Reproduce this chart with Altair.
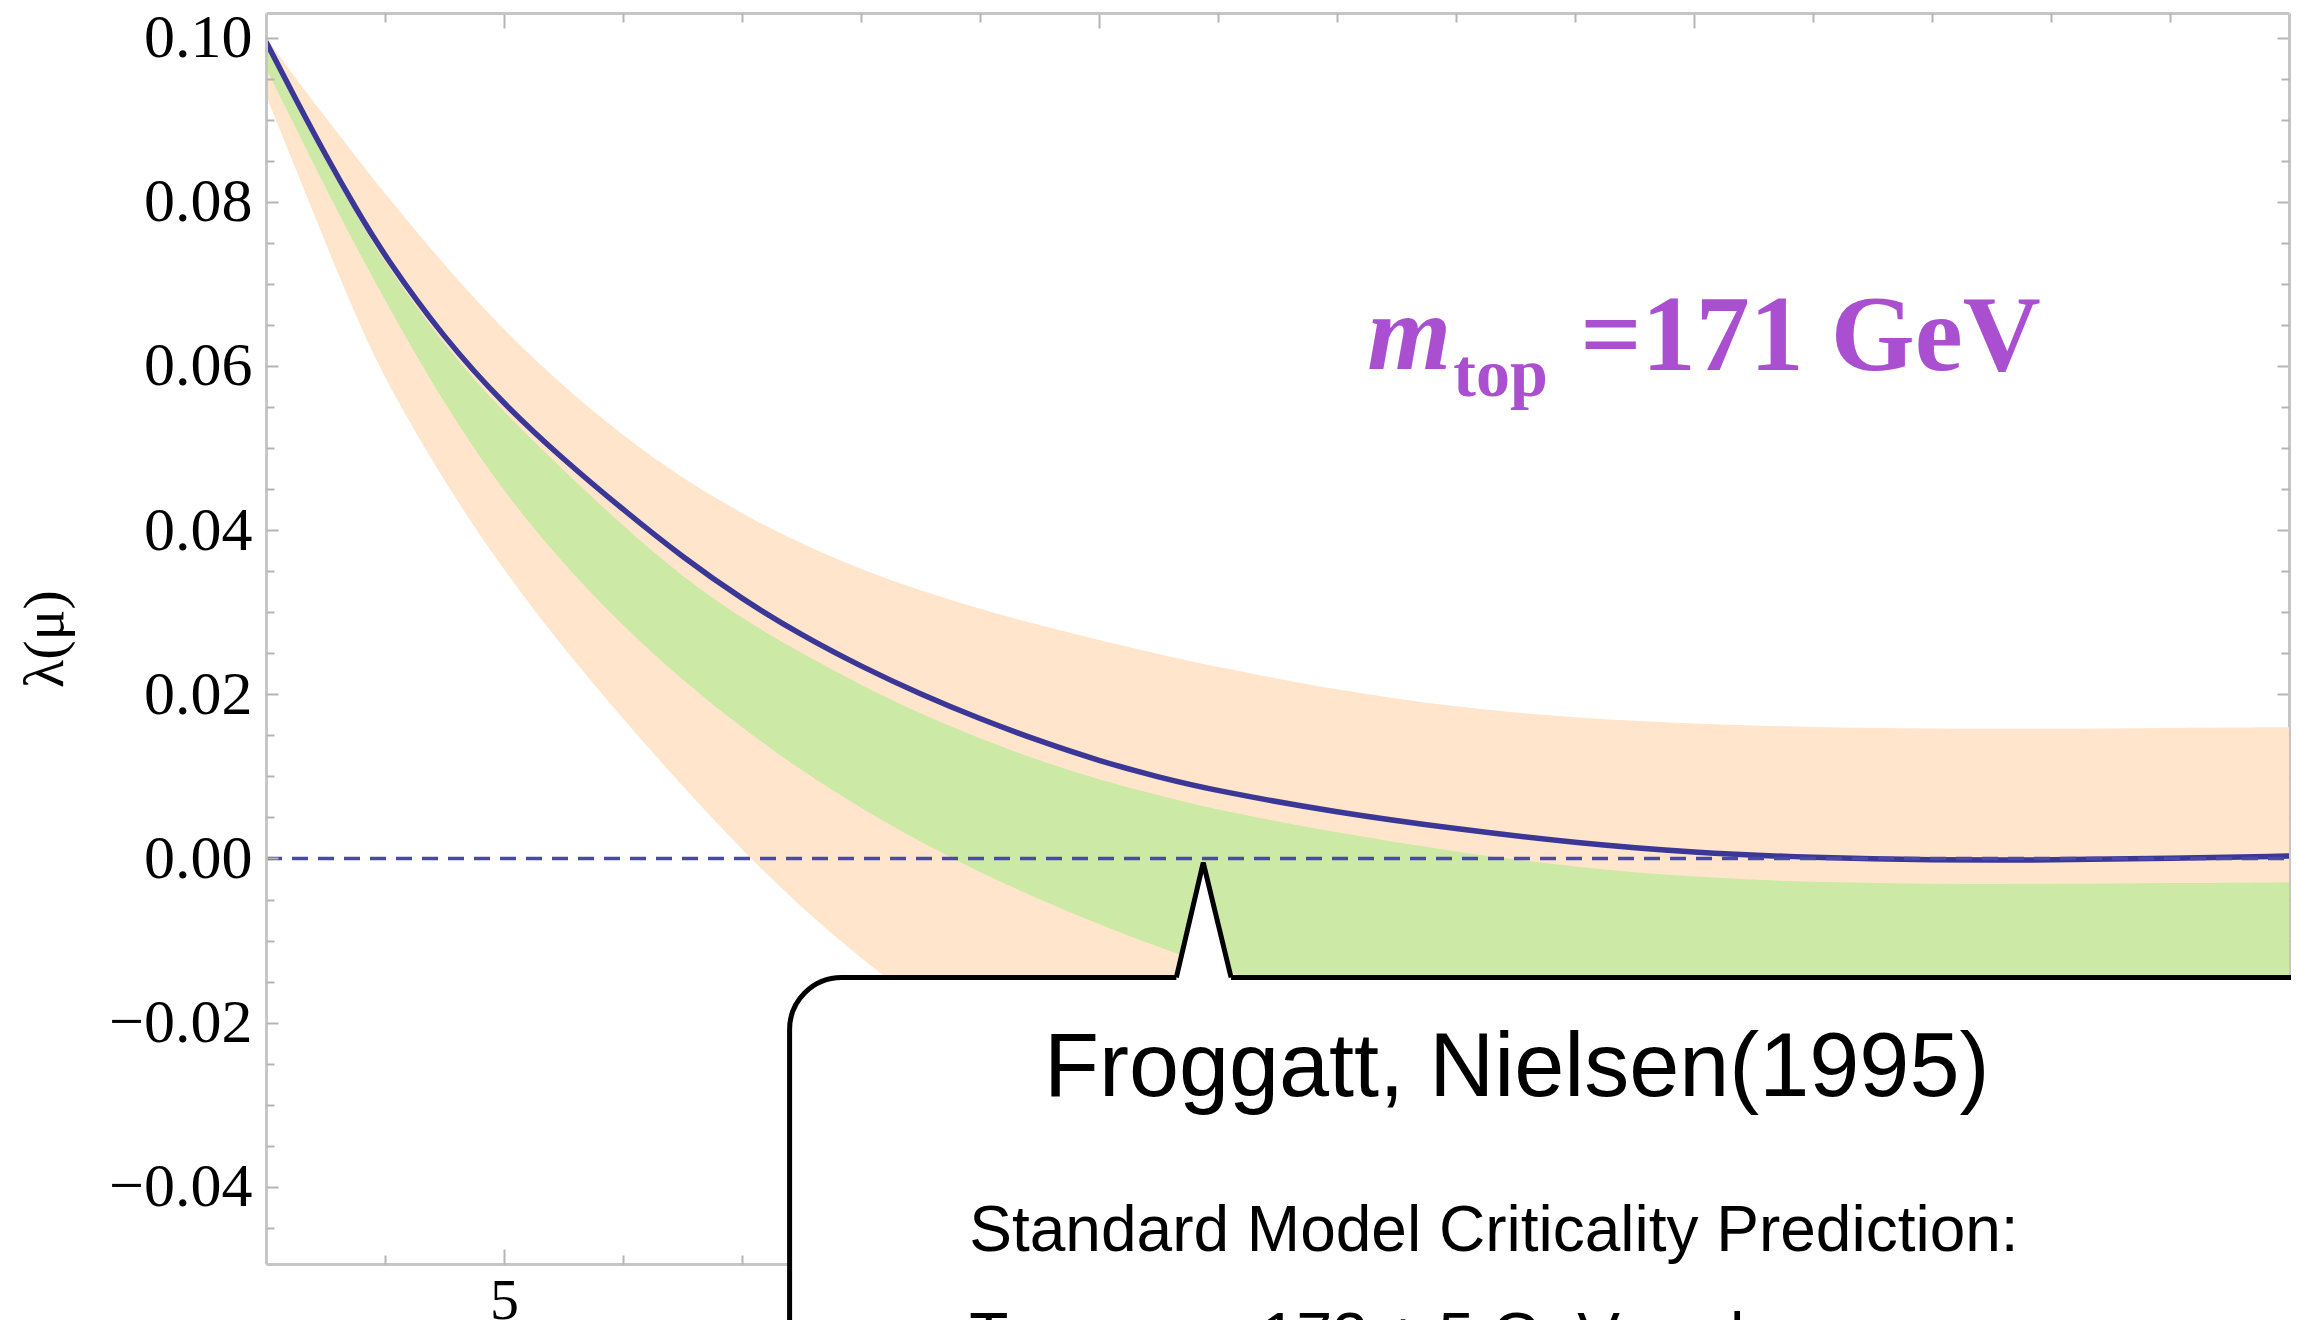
import altair as alt
import pandas as pd

# ---------------- data ----------------
mu = [3.0, 3.25, 3.5, 3.75, 4.0, 4.5, 5.0, 5.5, 6.0, 6.5, 7.0, 7.5, 8.0, 8.5,
      9.0, 9.5, 10.0, 10.5, 11.0, 12.0, 13.0, 14.0, 15.0, 16.0, 17.0, 18.0, 19.0, 20.0]
lam_central = [0.0995, 0.0925, 0.0857, 0.0793, 0.0733, 0.0633, 0.0553, 0.0486, 0.0425, 0.0367,
               0.0316, 0.0272, 0.0234, 0.0200, 0.0170, 0.0143, 0.0119, 0.0099, 0.0082, 0.0056,
               0.0036, 0.0019, 0.0007, 0.0001, -0.0002, -0.0002, 0.0000, 0.0003]
outer_hi = [0.1000, 0.0950, 0.0903, 0.0856, 0.0810, 0.0722, 0.0643, 0.0575, 0.0515, 0.0463,
            0.0420, 0.0383, 0.0352, 0.0326, 0.0304, 0.0284, 0.0266, 0.0249, 0.0233, 0.0205,
            0.0184, 0.0171, 0.0164, 0.0160, 0.0158, 0.0158, 0.0159, 0.0160]
outer_lo = [0.0930, 0.0840, 0.0750, 0.0662, 0.0583, 0.0458, 0.0350, 0.0256, 0.0170, 0.0088,
            0.0010, -0.0060, -0.0122, -0.0177, -0.0222, -0.0260, -0.0294, -0.0324, -0.0350, -0.0390,
            -0.0420, -0.0440, -0.0458, -0.0470, -0.0479, -0.0485, -0.0489, -0.0490]
inner_hi = [0.0988, 0.0918, 0.0850, 0.0786, 0.0725, 0.0624, 0.0543, 0.0473, 0.0405, 0.0343,
            0.0292, 0.0250, 0.0211, 0.0176, 0.0146, 0.0119, 0.0096, 0.0077, 0.0059, 0.0031,
            0.0008, -0.0011, -0.0023, -0.0029, -0.0031, -0.0031, -0.0030, -0.0029]
inner_lo = [0.0963, 0.0890, 0.0817, 0.0747, 0.0680, 0.0552, 0.0446, 0.0358, 0.0283, 0.0217,
            0.0159, 0.0107, 0.0061, 0.0020, -0.0017, -0.0050, -0.0080, -0.0108, -0.0134, -0.0180,
            -0.0215, -0.0240, -0.0258, -0.0270, -0.0278, -0.0283, -0.0286, -0.0288]

# tick values
y_major = [-0.04, -0.02, 0.0, 0.02, 0.04, 0.06, 0.08, 0.10]
y_minor = [-0.045, -0.035, -0.03, -0.025, -0.015, -0.01, -0.005, 0.005, 0.01, 0.015,
           0.025, 0.03, 0.035, 0.045, 0.05, 0.055, 0.065, 0.07, 0.075, 0.085, 0.09, 0.095]
x_labels = [5]
x_major = [5, 10, 15]
x_minor = [4, 6, 7, 8, 9, 11, 12, 13, 14, 16, 17, 18, 19]

# annotation anchors (data coordinates)
zero_level = 0.0
box_x = [7.40, 22.0]
box_y = [-0.0145, -0.09]
pointer_x = [10.65, 10.876, 11.11]
pointer_y = [-0.0145, -0.0005, -0.0145]
pointer_base = -0.0152
title_pos = (13.51, -0.0289)
line1_pos = (8.91, -0.0478)
line2_pos = (8.91, -0.0608)
m_pos = (12.255, 0.0596)
sub_pos = (12.977, 0.0564)
val_pos = (14.044, 0.0595)

# ---------------- styling ----------------
W, H = 2023, 1251
ORANGE = "#FFE5CC"
GREEN = "#CDE9A6"
BLUE = "#3A3796"
DASH = "#4A48A8"
PURPLE = "#A94FCF"
FRAME = "#C6C6C6"
TICK = "#B5B5B5"
SERIF = "Liberation Serif"
SANS = "Liberation Sans"

xs = alt.Scale(domain=[3, 20], nice=False, zero=False)
ys = alt.Scale(domain=[-0.0494, 0.103], nice=False, zero=False)


def tick_axis(orient, offset, values, size, domain=False, zindex=1):
    return alt.Axis(orient=orient, offset=offset, values=values, tickSize=size,
                    ticks=True, labels=False, domain=domain, domainColor=FRAME,
                    domainWidth=3, tickColor=TICK, tickWidth=2, grid=False,
                    title=None, zindex=zindex)


x_label_axis = alt.Axis(orient="bottom", values=x_labels, format="d", labelFont=SERIF,
                        labelFontSize=58, labelColor="black", labelPadding=8,
                        ticks=False, domain=True, domainColor=FRAME, domainWidth=3,
                        grid=False, title=None, labelFlush=False, zindex=0)
y_label_axis = alt.Axis(orient="left", values=y_major,
                        labelExpr="replace(format(datum.value, '.2f'), '-', '\u2212')",
                        labelFont=SERIF, labelFontSize=62, labelColor="black",
                        labelPadding=14, ticks=False, domain=True, domainColor=FRAME,
                        domainWidth=3, grid=False, title="\u03bb(\u03bc)",
                        titleFont=SERIF, titleFontSize=58, titleFontWeight="normal",
                        titleColor="black", titlePadding=34, zindex=1)

df = pd.DataFrame({"mu": mu, "central": lam_central, "o_lo": outer_lo, "o_hi": outer_hi,
                   "g_lo": inner_lo, "g_hi": inner_hi})

orange = alt.Chart(df).mark_area(color=ORANGE, clip=True, interpolate="basis").encode(
    x=alt.X("mu:Q", scale=xs, axis=x_label_axis),
    y=alt.Y("o_lo:Q", scale=ys, axis=y_label_axis),
    y2="o_hi:Q",
)
green = alt.Chart(df).mark_area(color=GREEN, clip=True, interpolate="basis").encode(
    x=alt.X("mu:Q", scale=xs, axis=tick_axis("top", -H, x_major, 15, zindex=0)),
    y=alt.Y("g_lo:Q", scale=ys, axis=tick_axis("right", -W, y_major, 12)),
    y2="g_hi:Q",
)
line = alt.Chart(df).mark_line(color=BLUE, strokeWidth=5.5, clip=True, interpolate="basis").encode(
    x=alt.X("mu:Q", scale=xs, axis=tick_axis("top", -H, x_minor, 9, zindex=0)),
    y=alt.Y("central:Q", scale=ys, axis=tick_axis("right", -W, y_minor, 8)),
)

zero_df = pd.DataFrame({"x0": [mu[0]], "x1": [mu[-1]], "y": [zero_level]})
zero = alt.Chart(zero_df).mark_rule(color=DASH, strokeWidth=3.5, strokeDash=[16, 10]).encode(
    x=alt.X("x0:Q", scale=xs, axis=tick_axis("bottom", -H, x_major, 15, domain=True, zindex=1)),
    x2="x1:Q",
    y=alt.Y("y:Q", scale=ys, axis=tick_axis("left", -W, y_major, 12, domain=True, zindex=0)),
)

box_df = pd.DataFrame({"x0": [box_x[0]], "x1": [box_x[1]], "y0": [box_y[0]], "y1": [box_y[1]]})
box = alt.Chart(box_df).mark_rect(fill="white", stroke="black", strokeWidth=5,
                                  cornerRadius=52).encode(
    x=alt.X("x0:Q", scale=xs, axis=tick_axis("bottom", -H, x_minor, 9)),
    x2="x1:Q",
    y=alt.Y("y0:Q", scale=ys, axis=tick_axis("left", -W, y_minor, 8, zindex=0)),
    y2="y1:Q",
)

ptr_df = pd.DataFrame({"x": pointer_x, "y": pointer_y, "base": [pointer_base] * 3})
ptr_fill = alt.Chart(ptr_df).mark_area(color="white").encode(
    x=alt.X("x:Q", scale=xs, axis=None),
    y=alt.Y("y:Q", scale=ys, axis=None),
    y2="base:Q",
)
ptr_line = alt.Chart(ptr_df).mark_line(color="black", strokeWidth=5, strokeJoin="miter").encode(
    x=alt.X("x:Q", scale=xs, axis=None),
    y=alt.Y("y:Q", scale=ys, axis=None),
)


def label(text, pos, font, size, align="left", weight="normal", style="normal", color="black"):
    d = pd.DataFrame({"x": [pos[0]], "y": [pos[1]], "t": [text]})
    return alt.Chart(d).mark_text(font=font, fontSize=size, align=align, baseline="alphabetic",
                                  fontWeight=weight, fontStyle=style, color=color).encode(
        x=alt.X("x:Q", scale=xs, axis=None),
        y=alt.Y("y:Q", scale=ys, axis=None),
        text="t:N",
    )


t_title = label("Froggatt, Nielsen(1995)", title_pos, SANS, 90, align="center")
t_line1 = label("Standard Model Criticality Prediction:", line1_pos, SANS, 64)
t_line2 = label("Top mass 173 \u00b1 5 GeV and", line2_pos, SANS, 64)
t_m = label("m", m_pos, SERIF, 108, weight="bold", style="italic", color=PURPLE)
t_sub = label("top", sub_pos, SERIF, 68, weight="bold", color=PURPLE)
t_val = label("=171 GeV", val_pos, SERIF, 108, weight="bold", color=PURPLE)

chart = alt.layer(
    orange, green, line, zero, box, ptr_fill, ptr_line,
    t_title, t_line1, t_line2, t_m, t_sub, t_val,
).resolve_axis(x="independent", y="independent").properties(
    width=W, height=H,
    autosize=alt.AutoSizeParams(type="none"),
    padding={"left": 258, "top": 5, "right": 2, "bottom": 56},
    background="white",
).configure_view(stroke=None)

chart.save("out.html", embed_options={"renderer": "svg", "actions": False})
